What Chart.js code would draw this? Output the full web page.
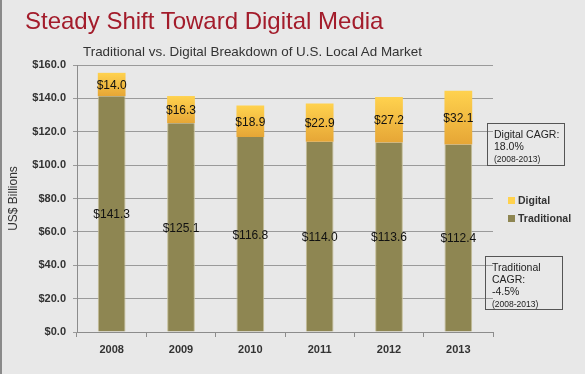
<!DOCTYPE html>
<html>
<head>
<meta charset="utf-8">
<script src="https://cdn.jsdelivr.net/npm/chart.js@4"></script>
<style>
    html, body { margin: 0; padding: 0; }
    body {
        width: 585px; height: 374px; overflow: hidden;
        background: #e8e8e8;
        font-family: "Liberation Sans", Arial, sans-serif;
        position: relative;
    }
    #frame { position: absolute; left: 0; top: 0; width: 2px; height: 374px; background: #8a8a8a; }
    #chartWrap { position: absolute; left: 0; top: 0; width: 585px; height: 374px; }
    .txt { position: absolute; white-space: nowrap; color: #222; }
    #title { left: 25px; top: 7px; font-size: 24px; color: #a31c2b; }
    #subtitle { left: 83px; top: 44px; font-size: 13.4px; color: #333; }
    .box { position: absolute; border: 1px solid #555; font-size: 10.5px; line-height: 12px; color: #222; box-sizing: border-box; }
    .box small { font-size: 8.5px; }
    #boxDigital { left: 487px; top: 123px; width: 78px; height: 43px; padding: 4px 0 0 6px; }
    #boxTrad { left: 485px; top: 256px; width: 78px; height: 54px; padding: 4px 0 0 6px; }
    #legend { position: absolute; left: 508px; top: 191px; font-size: 10.5px; font-weight: bold; color: #333; }
    #legend div { height: 18px; line-height: 18px; }
    #legend span { display: inline-block; width: 7px; height: 7px; margin-right: 3px; vertical-align: 0px; }
</style>
</head>
<body>
<div id="frame"></div>
<div id="chartWrap"><canvas id="adChart" width="585" height="374"></canvas></div>
<div class="txt" id="title">Steady Shift Toward Digital Media</div>
<div class="txt" id="subtitle">Traditional vs. Digital Breakdown of U.S. Local Ad Market</div>
<div class="box" id="boxDigital">Digital CAGR:<br>18.0%<br><small>(2008-2013)</small></div>
<div class="box" id="boxTrad">Traditional<br>CAGR:<br>-4.5%<br><small>(2008-2013)</small></div>
<div id="legend"></div>

<script>
const years = ['2008', '2009', '2010', '2011', '2012', '2013'];
const traditional = [141.3, 125.1, 116.8, 114.0, 113.6, 112.4];
const digital = [14.0, 16.3, 18.9, 22.9, 27.2, 32.1];
const yTicks = [0, 20, 40, 60, 80, 100, 120, 140, 160];

const FONT = '"Liberation Sans", Arial, sans-serif';
const TRAD_COLOR = '#8e8652';
const DIG_TOP = '#ffd24e';
const DIG_BOTTOM = '#e6a636';

// Vertical gradient for each digital segment, top to bottom of the segment.
function digitalFill(context) {
    const chart = context.chart;
    const y = chart.scales.y;
    if (!chart.chartArea || !y || context.dataIndex === undefined) return DIG_TOP;
    const i = context.dataIndex;
    const top = y.getPixelForValue(traditional[i] + digital[i]);
    const bottom = y.getPixelForValue(traditional[i]);
    const g = chart.ctx.createLinearGradient(0, top, 0, bottom);
    g.addColorStop(0, DIG_TOP);
    g.addColorStop(1, DIG_BOTTOM);
    return g;
}

// Dollar labels in the middle of each segment.
const valueLabels = {
    id: 'valueLabels',
    afterDatasetsDraw(chart) {
        const ctx = chart.ctx;
        ctx.save();
        ctx.font = '12px ' + FONT;
        ctx.fillStyle = '#111';
        ctx.textAlign = 'center';
        ctx.textBaseline = 'middle';
        chart.data.datasets.forEach((ds, i) => {
            chart.getDatasetMeta(i).data.forEach((bar, j) => {
                ctx.fillText('$' + ds.data[j].toFixed(1), bar.x, (bar.y + bar.base) / 2 + 1);
            });
        });
        ctx.restore();
    }
};

const chart = new Chart(document.getElementById('adChart').getContext('2d'), {
    type: 'bar',
    data: {
        labels: years,
        datasets: [
            {
                label: 'Traditional',
                data: traditional,
                backgroundColor: TRAD_COLOR,
                borderColor: '#c4bd98',
                borderWidth: { left: 1, right: 1, top: 0, bottom: 0 },
                borderSkipped: false,
                barPercentage: 0.4,
                categoryPercentage: 1.0
            },
            {
                label: 'Digital',
                data: digital,
                backgroundColor: digitalFill,
                borderWidth: 0,
                barPercentage: 0.4,
                categoryPercentage: 1.0
            }
        ]
    },
    options: {
        responsive: false,
        animation: false,
        layout: { padding: { left: 0, top: 65, right: 92, bottom: 0 } },
        plugins: {
            legend: { display: false },
            tooltip: { enabled: false }
        },
        scales: {
            x: {
                stacked: true,
                afterFit: s => { s.height = 42; },
                border: { color: '#8c8c8c', width: 1 },
                grid: { drawOnChartArea: false, drawTicks: true, tickLength: 5, color: '#8c8c8c', offset: true },
                ticks: { color: '#333', padding: 6, font: { family: FONT, size: 11, weight: 'bold' } }
            },
            y: {
                stacked: true,
                min: 0,
                max: 160,
                afterFit: s => { s.width = 77; },
                afterBuildTicks: s => { s.ticks = yTicks.map(v => ({ value: v })); },
                border: { color: '#8c8c8c', width: 1 },
                grid: { color: '#9a9a9a', lineWidth: 1, tickLength: 4 },
                ticks: {
                    color: '#333',
                    padding: 7,
                    font: { family: FONT, size: 11, weight: 'bold' },
                    callback: v => '$' + v.toFixed(1)
                },
                title: {
                    display: true,
                    text: 'US$ Billions',
                    color: '#333',
                    padding: { top: 6, bottom: 0 },
                    font: { family: FONT, size: 12 }
                }
            }
        }
    },
    plugins: [valueLabels]
});

// HTML legend, Digital first as in the original.
const legendEl = document.getElementById('legend');
[['Digital', DIG_TOP], ['Traditional', TRAD_COLOR]].forEach(([name, color]) => {
    const row = document.createElement('div');
    row.innerHTML = `<span style="background:${color}"></span>${name}`;
    legendEl.appendChild(row);
});
</script>
</body>
</html>
